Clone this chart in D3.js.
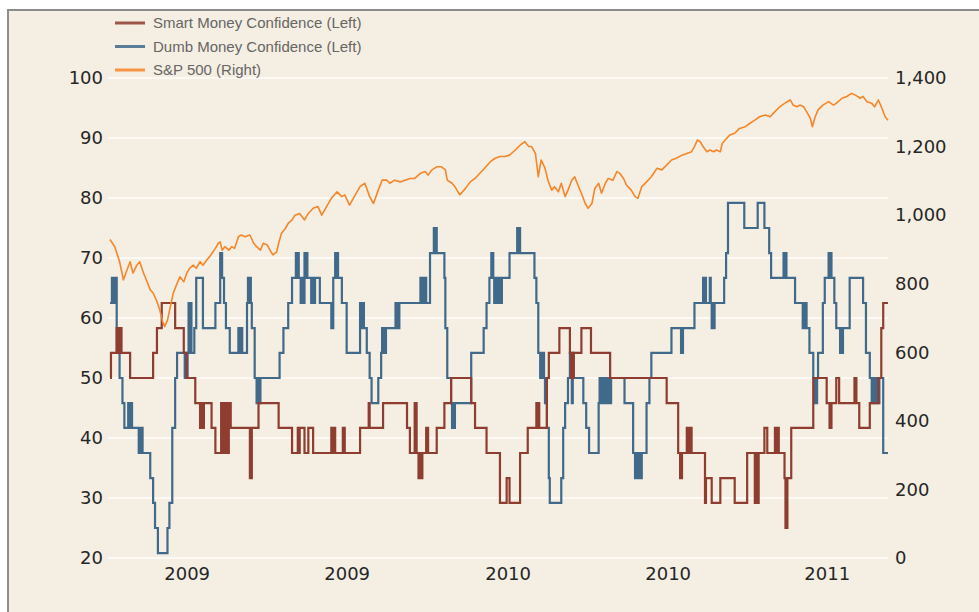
<!DOCTYPE html>
<html>
<head>
<meta charset="utf-8">
<script src="https://cdn.jsdelivr.net/npm/d3@7"></script>
<style>
body { margin: 0; background: #fff; }
svg { display: block; }
</style>
</head>
<body>
<svg id="chart"></svg>
<script>
// days are counted from startDate
var startDate = new Date(2009, 0, 2);
var spanDays = 812;

var seriesNames = ["Smart Money Confidence (Left)", "Dumb Money Confidence (Left)", "S&P 500 (Right)"];
var xTickDates = ["2009-03-23", "2009-09-06", "2010-02-21", "2010-08-07", "2011-01-20"];
var xTickLabels = ["2009", "2009", "2010", "2010", "2011"];
var leftTicks = [20, 30, 40, 50, 60, 70, 80, 90, 100];
var rightTicks = [0, 200, 400, 600, 800, 1000, 1200, 1400];

// [day, confidence]
var smartMoney = [[0,50],[1,54.2],[7,58.3],[9,54.2],[10,58.3],[12,54.2],[21,50],[45,54.2],[49,58.3],[54,62.5],[68,58.3],[77,54.2],[80,50],[89,45.8],[94,41.7],[95,45.8],[97,41.7],[98,45.8],[106,41.7],[110,37.5],[116,45.8],[118,37.5],[120,45.8],[122,37.5],[124,45.8],[126,41.7],[146,33.3],[148,41.7],[155,45.8],[176,41.7],[190,37.5],[196,41.7],[197,37.5],[198,41.7],[203,37.5],[207,41.7],[212,37.5],[231,41.7],[233,37.5],[234,41.7],[235,37.5],[243,41.7],[245,37.5],[261,41.7],[270,45.8],[271,41.7],[285,45.8],[310,41.7],[313,37.5],[318,45.8],[320,37.5],[322,33.3],[323,37.5],[324,33.3],[326,37.5],[330,41.7],[332,37.5],[341,41.7],[349,45.8],[356,50],[377,45.8],[381,41.7],[393,37.5],[407,29.2],[414,33.3],[417,29.2],[428,37.5],[436,41.7],[445,45.8],[446,41.7],[447,45.8],[448,41.7],[456,50],[458,54.2],[469,58.3],[480,54.2],[481,50],[482,54.2],[483,50],[484,54.2],[492,58.3],[502,54.2],[522,50],[581,45.8],[593,37.5],[595,33.3],[597,37.5],[602,41.7],[603,37.5],[605,41.7],[607,37.5],[621,29.2],[622,33.3],[628,29.2],[637,33.3],[652,29.2],[665,37.5],[673,29.2],[674,37.5],[675,29.2],[677,37.5],[683,41.7],[686,37.5],[694,41.7],[695,37.5],[696,41.7],[698,37.5],[704,33.3],[705,25],[707,33.3],[711,41.7],[734,50],[748,45.8],[751,41.7],[753,45.8],[758,50],[761,45.8],[777,50],[779,45.8],[782,41.7],[793,45.8],[802,50],[805,58.3],[807,62.5],[812,62.5]];

var dumbMoney = [[0,62.5],[2,66.7],[4,62.5],[5,66.7],[7,54.2],[10,50],[13,45.8],[15,41.7],[19,45.8],[20,41.7],[22,45.8],[23,41.7],[30,37.5],[31,41.7],[32,37.5],[33,41.7],[34,37.5],[42,33.3],[45,29.2],[47,25],[50,20.8],[60,25],[62,29.2],[65,41.7],[68,50],[70,54.2],[78,50],[79,54.2],[80,50],[81,54.2],[82,62.5],[83,54.2],[84,62.5],[85,54.2],[88,58.3],[90,66.7],[97,58.3],[110,62.5],[115,70.8],[117,66.7],[119,62.5],[121,58.3],[125,54.2],[134,58.3],[135,54.2],[136,58.3],[138,54.2],[143,62.5],[144,66.7],[145,62.5],[146,66.7],[147,62.5],[148,58.3],[151,50],[153,45.8],[154,50],[155,45.8],[157,50],[177,54.2],[181,58.3],[186,62.5],[190,66.7],[194,70.8],[195,66.7],[196,70.8],[197,66.7],[199,62.5],[200,66.7],[202,62.5],[203,70.8],[204,66.7],[205,70.8],[206,66.7],[210,62.5],[212,66.7],[213,62.5],[214,66.7],[219,62.5],[231,58.3],[233,66.7],[235,70.8],[236,66.7],[237,70.8],[238,66.7],[242,62.5],[247,54.2],[261,62.5],[263,58.3],[264,62.5],[265,58.3],[268,54.2],[271,50],[273,45.8],[280,50],[283,54.2],[284,58.3],[285,54.2],[286,58.3],[287,54.2],[288,58.3],[298,62.5],[299,58.3],[300,62.5],[301,58.3],[302,62.5],[324,66.7],[325,62.5],[326,66.7],[328,62.5],[329,66.7],[330,62.5],[334,70.8],[338,75],[339,70.8],[340,75],[341,70.8],[349,66.7],[350,58.3],[352,50],[356,45.8],[357,41.7],[358,45.8],[359,41.7],[360,45.8],[377,54.2],[390,58.3],[393,62.5],[396,66.7],[398,70.8],[400,66.7],[401,62.5],[402,66.7],[403,62.5],[404,66.7],[406,62.5],[407,66.7],[408,62.5],[409,66.7],[417,70.8],[425,75],[426,70.8],[427,75],[428,70.8],[443,66.7],[445,62.5],[447,54.2],[449,50],[450,54.2],[451,50],[452,54.2],[453,50],[454,45.8],[456,41.7],[458,33.3],[459,29.2],[471,33.3],[473,41.7],[475,45.8],[478,50],[480,54.2],[481,50],[482,45.8],[483,54.2],[484,50],[494,45.8],[497,41.7],[500,37.5],[510,45.8],[511,50],[513,45.8],[514,50],[516,45.8],[517,50],[519,45.8],[520,50],[522,45.8],[523,50],[537,45.8],[546,37.5],[548,33.3],[549,37.5],[550,33.3],[551,37.5],[552,33.3],[553,37.5],[554,33.3],[555,37.5],[560,45.8],[563,50],[565,54.2],[586,58.3],[596,54.2],[598,58.3],[610,62.5],[619,66.7],[620,62.5],[621,66.7],[622,62.5],[626,66.7],[627,62.5],[628,58.3],[629,62.5],[630,58.3],[631,62.5],[641,66.7],[643,70.8],[645,79.2],[662,75],[676,79.2],[683,75],[688,70.8],[690,66.7],[703,70.8],[704,66.7],[705,70.8],[706,66.7],[715,62.5],[723,58.3],[724,62.5],[725,58.3],[726,62.5],[727,58.3],[730,54.2],[734,50],[735,45.8],[736,50],[737,45.8],[738,50],[739,54.2],[744,62.5],[746,66.7],[750,70.8],[751,66.7],[752,70.8],[753,66.7],[756,62.5],[758,58.3],[762,54.2],[763,58.3],[764,54.2],[765,58.3],[772,66.7],[786,62.5],[789,54.2],[793,50],[795,45.8],[796,50],[798,45.8],[799,50],[801,45.8],[803,50],[807,37.5],[812,37.5]];

// [day, index level]
var sp500 = [[0,929],[5,908],[10,864],[14,811],[17,835],[21,864],[24,831],[28,854],[31,864],[35,831],[38,811],[42,782],[45,773],[49,748],[52,723],[55,689],[57,675],[60,694],[63,733],[66,772],[70,801],[73,820],[77,806],[80,830],[83,845],[87,854],[90,845],[94,864],[97,854],[101,869],[104,879],[110,903],[113,918],[115,922],[117,898],[120,908],[124,898],[127,908],[130,903],[134,937],[137,942],[141,937],[146,942],[150,918],[153,908],[157,898],[160,918],[164,913],[167,898],[170,884],[174,893],[176,918],[179,947],[183,961],[186,976],[190,986],[193,1000],[198,1005],[203,986],[207,1005],[212,1020],[217,1025],[221,1000],[226,1025],[231,1049],[237,1068],[242,1054],[245,1059],[250,1029],[256,1059],[261,1083],[266,1093],[271,1054],[275,1034],[280,1073],[284,1102],[289,1102],[292,1093],[297,1102],[303,1097],[308,1102],[313,1107],[318,1107],[324,1122],[329,1127],[332,1117],[336,1132],[341,1141],[346,1141],[350,1132],[352,1102],[357,1093],[360,1083],[365,1059],[371,1078],[376,1097],[381,1107],[386,1122],[391,1137],[397,1156],[402,1166],[407,1171],[412,1171],[417,1175],[423,1190],[428,1204],[433,1214],[437,1200],[440,1200],[444,1180],[447,1112],[450,1161],[454,1137],[457,1102],[461,1073],[464,1083],[468,1068],[471,1093],[475,1054],[478,1073],[482,1102],[485,1112],[489,1083],[492,1064],[496,1034],[499,1020],[503,1034],[506,1078],[510,1093],[513,1064],[517,1093],[520,1107],[525,1102],[529,1127],[532,1122],[536,1107],[539,1088],[544,1073],[548,1054],[551,1049],[555,1083],[560,1097],[565,1112],[571,1137],[576,1132],[581,1146],[586,1161],[591,1166],[597,1175],[602,1180],[607,1185],[610,1200],[613,1219],[616,1214],[619,1200],[623,1185],[626,1190],[630,1185],[633,1190],[637,1185],[639,1209],[642,1219],[647,1234],[652,1239],[657,1253],[663,1258],[668,1268],[673,1277],[678,1287],[684,1292],[689,1287],[694,1302],[699,1316],[704,1326],[710,1336],[713,1321],[717,1316],[720,1321],[724,1316],[727,1302],[731,1282],[733,1258],[736,1287],[739,1307],[744,1321],[750,1331],[755,1321],[758,1326],[764,1341],[769,1346],[774,1355],[778,1350],[783,1341],[786,1346],[790,1331],[795,1326],[798,1316],[802,1336],[805,1316],[809,1287],[812,1277]];

var colors = ["#8e3d30", "#41698a", "#f5862a"];

var W = 979, H = 612,
	plot = {left: 110, right: 888, top: 78, bottom: 558};

var svg = d3.select("#chart").attr("width", W).attr("height", H);

// panel
svg.append("rect").attr("x", 8).attr("y", 10).attr("width", W).attr("height", H)
	.style("fill", "#f5eee2").style("stroke", "#8c8c8c").style("stroke-width", 2);

var parseDay = d3.timeParse("%Y-%m-%d");
function dayDate(n) { return d3.timeDay.offset(startDate, n); }

var x = d3.scaleTime()
	.domain([startDate, dayDate(spanDays)])
	.range([plot.left, plot.right]);
var yLeft = d3.scaleLinear().domain([20, 100]).range([plot.bottom, plot.top]);
var yRight = d3.scaleLinear().domain([0, 1400]).range([plot.bottom, plot.top]);

// gridlines
svg.append("g").selectAll("line").data(leftTicks).enter().append("line")
	.attr("x1", plot.left - 2).attr("x2", plot.right)
	.attr("y1", function(d) { return yLeft(d); })
	.attr("y2", function(d) { return yLeft(d); })
	.style("stroke", "#fdfaf5").style("stroke-width", 2);

function styleAxis(g) {
	g.select(".domain").remove();
	g.selectAll(".tick line").remove();
	g.selectAll(".tick text").style("font-family", "DejaVu Sans").style("font-size", "18px").style("fill", "#262626");
}

svg.append("g").attr("transform", "translate(" + plot.left + ",0)")
	.call(d3.axisLeft(yLeft).tickValues(leftTicks).tickSize(0).tickPadding(7))
	.call(styleAxis);

svg.append("g").attr("transform", "translate(" + plot.right + ",0)")
	.call(d3.axisRight(yRight).tickValues(rightTicks).tickSize(0).tickPadding(7).tickFormat(d3.format(",")))
	.call(styleAxis);

svg.append("g").attr("transform", "translate(0," + plot.bottom + ")")
	.call(d3.axisBottom(x).tickValues(xTickDates.map(parseDay)).tickSize(0).tickPadding(9)
		.tickFormat(function(d, i) { return xTickLabels[i]; }))
	.call(styleAxis);

var stepLine = d3.line()
	.x(function(d) { return x(dayDate(d[0])); })
	.y(function(d) { return yLeft(d[1]); })
	.curve(d3.curveStepAfter);

var spLine = d3.line()
	.x(function(d) { return x(dayDate(d[0])); })
	.y(function(d) { return yRight(d[1]); });

svg.append("path").datum(dumbMoney).attr("d", stepLine)
	.style("fill", "none").style("stroke", colors[1]).style("stroke-width", 2.2);
svg.append("path").datum(smartMoney).attr("d", stepLine)
	.style("fill", "none").style("stroke", colors[0]).style("stroke-width", 2.2);
svg.append("path").datum(sp500).attr("d", spLine)
	.style("fill", "none").style("stroke", colors[2]).style("stroke-width", 1.6)
	.style("stroke-linejoin", "round");

// legend
var legend = svg.append("g").selectAll("g").data(seriesNames).enter().append("g")
	.attr("transform", function(d, i) { return "translate(115," + (23 + i * 23.5) + ")"; });
legend.append("line").attr("x1", 0).attr("x2", 30)
	.style("stroke", function(d, i) { return colors[i]; })
	.style("stroke-width", 3).style("opacity", 0.85);
legend.append("text").attr("x", 38).attr("dy", "0.35em")
	.text(function(d) { return d; })
	.style("font-family", "Liberation Sans").style("font-size", "15px").style("fill", "#666");
</script>
</body>
</html>
